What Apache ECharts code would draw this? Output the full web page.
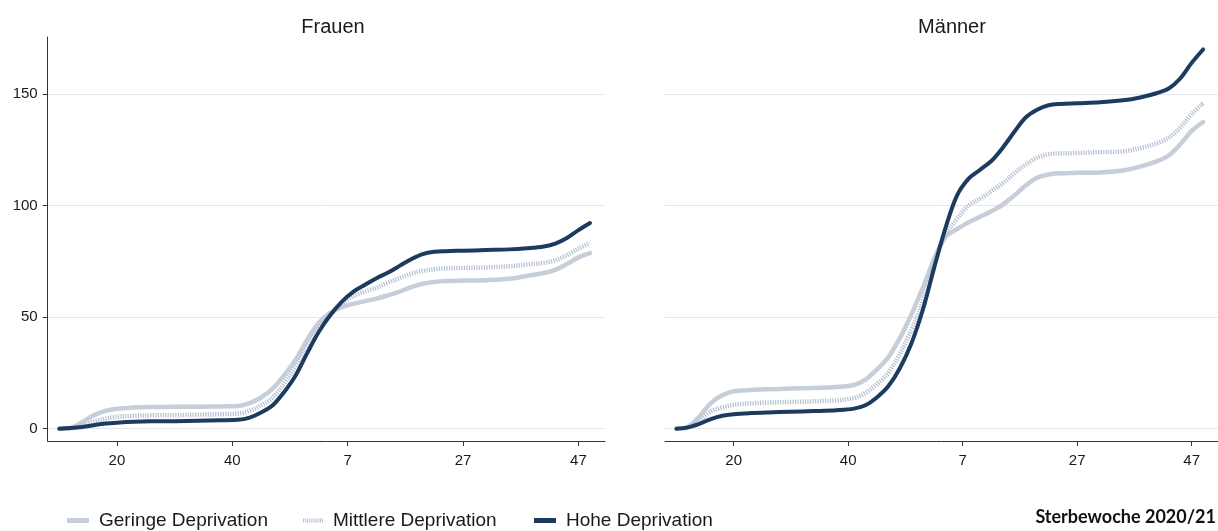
<!DOCTYPE html>
<html>
<head>
<meta charset="utf-8">
<script src="https://cdn.jsdelivr.net/npm/echarts@6/dist/echarts.min.js"></script>
<style>
html,body{margin:0;padding:0;background:#fff;}
#chart{width:1218px;height:531px;}
</style>
</head>
<body>
<div id="chart"></div>
<script>
// Week index: 2020 weeks 1..53 => 1..53, 2021 week w => 53 + w
const weeks = [10,12,14,16,18,20,23,26,30,34,38,41,43,45,47,49,51,53,55,57,59,61,63,65,67,69,71,73,75,77,80,84,88,91,94,96,98,100,102];

const frauenGeringe = [0,0.3,3,6,8,9,9.5,9.7,9.8,9.9,10,10.2,11.5,14,18,24,31,40,47.5,52,54.5,56,57.2,58.3,59.8,61.5,63.5,65,65.8,66.2,66.4,66.6,67.2,68.5,69.8,71.2,73.8,76.8,78.7];
const frauenMittlere = [0,0.2,1.5,3.2,4.5,5.3,5.8,6,6.1,6.3,6.5,6.8,8,10.5,14,20.5,28,37,45,51,56,59.5,61.5,63.2,65.5,67.5,69.5,70.8,71.5,71.9,72.1,72.3,72.8,73.6,74.4,75.5,77.8,80.8,83.2];
const frauenHohe = [0,0.3,0.8,1.6,2.3,2.7,3.1,3.3,3.4,3.6,3.8,4.0,5.0,7.3,10.5,16.5,24,34,43.5,51,57,61.5,64.5,67.5,70,73,76,78.3,79.3,79.6,79.8,80.1,80.4,80.9,81.7,83,85.5,89,92.2];

const maennerGeringe = [0,0.8,5.5,11.5,15,16.8,17.4,17.7,18,18.3,18.7,19.6,22,26.5,32,40.5,51,63,76,86,89.5,92.5,95,97.5,100.5,104.5,109,112.5,114,114.5,114.7,114.9,115.8,117.5,120,122.5,127.5,133.5,137.5];
const maennerMittlere = [0,0.5,3.5,7.8,9.5,10.7,11.4,11.7,12,12.3,12.7,13.8,16,20,25,33.5,44,57,74,87,94,100,103,106.5,110,114.5,118.5,121.5,123,123.4,123.6,124,124.3,125.8,128,130.5,135,141,146];
const maennerHohe = [0,0.6,2.2,4.3,5.8,6.5,7,7.3,7.6,7.9,8.3,9,10.5,14,19,27,38,53,72,90,104.5,112,116,120,126,133,139.5,143,145,145.6,145.9,146.3,147.2,148.5,150.5,152.5,157,164,170];

const tickValues = [20,40,60,80,100];
const tickLabels = ['20','40','7','27','47'];
const yTickValues = [0,50,100,150];
const panelTitles = ['Frauen','Männer'];
const seriesNames = ['Geringe Deprivation','Mittlere Deprivation','Hohe Deprivation'];

const colGering = '#c6ced9';
const colMittel = '#b3c0d2';
const colHoch = '#1d3a5f';

function pairs(vals){ return weeks.map((w,i)=>[w, vals[i]]); }

const FONT = '"Liberation Sans", Arial, sans-serif';

function xAxisDef(gridIndex){
  return {
    type:'value', gridIndex, min:8, max:104.6,
    axisLine:{show:true, onZero:false, lineStyle:{color:'#333', width:1}},
    axisTick:{show:true, length:5, lineStyle:{color:'#333'}, customValues:tickValues},
    axisLabel:{show:true, margin:12, color:'#1a1a1a', fontSize:15, fontFamily:FONT,
      customValues:tickValues,
      formatter:(v)=>{ const i = tickValues.indexOf(v); return i>=0 ? tickLabels[i] : ''; }},
    splitLine:{show:false}
  };
}
function yAxisDef(gridIndex, showAxis){
  return {
    type:'value', gridIndex, min:-5.5, max:175.6,
    axisLine:{show:showAxis, onZero:false, lineStyle:{color:'#333', width:1}},
    axisTick:{show:showAxis, length:5, lineStyle:{color:'#333'}, customValues:yTickValues},
    axisLabel:{show:showAxis, margin:10, color:'#1a1a1a', fontSize:15, fontFamily:FONT, customValues:yTickValues},
    splitLine:{show:true, lineStyle:{color:'#e4e6e9', width:1}}
  };
}

function lineSeries(name, data, idx, style){
  return {
    name, type:'line', xAxisIndex:idx, yAxisIndex:idx, data:pairs(data),
    showSymbol:false, symbol:'none', smooth:0.35,
    lineStyle:style, z: style.z || 2, silent:true, animation:false
  };
}

const styleG = {color:colGering, width:4.5, cap:'round', join:'round'};
const styleM = {color:colMittel, width:4.5, type:[1.2,1.3], cap:'butt'};
const styleH = {color:colHoch, width:4, cap:'round', join:'round'};

const dotIcon = 'path://M0,0h1v4h-1z M2,0h1v4h-1z M4,0h1v4h-1z M6,0h1v4h-1z M8,0h1v4h-1z M10,0h1v4h-1z M12,0h1v4h-1z M14,0h1v4h-1z M16,0h1v4h-1z M18,0h1v4h-1z';

function legendDef(name, left, icon, color, w){
  return {
    data:[{name, icon, itemStyle:{color}}],
    left, top:506, itemWidth:w, itemHeight:5, itemGap:0,
    selectedMode:false,
    textStyle:{color:'#1a1a1a', fontSize:19, fontFamily:FONT, padding:[0,0,0,5]}
  };
}

const chart = echarts.init(document.getElementById('chart'), null, {renderer:'canvas'});
chart.setOption({
  animation:false,
  backgroundColor:'#ffffff',
  title:[
    {text:panelTitles[0], left:328, top:12, textAlign:'center', textStyle:{fontSize:20, fontWeight:'normal', color:'#1a1a1a', fontFamily:FONT}},
    {text:panelTitles[1], left:947, top:12, textAlign:'center', textStyle:{fontSize:20, fontWeight:'normal', color:'#1a1a1a', fontFamily:FONT}}
  ],
  grid:[
    {left:47.7, right:613, top:37, bottom:90, containLabel:false},
    {left:665, right:-4.3, top:37, bottom:90, containLabel:false}
  ],
  xAxis:[xAxisDef(0), xAxisDef(1)],
  yAxis:[yAxisDef(0,true), yAxisDef(1,false)],
  legend:[
    legendDef(seriesNames[0], 62, 'rect', colGering, 22),
    legendDef(seriesNames[1], 298, dotIcon, colMittel, 20),
    legendDef(seriesNames[2], 529, 'rect', colHoch, 22)
  ],
  graphic:[
    {type:'text', right:2, top:508, style:{text:'Sterbewoche 2020/21', fill:'#111', font:'bold 18px Lato, "Open Sans", sans-serif'}}
  ],
  series:[
    lineSeries(seriesNames[0], frauenGeringe, 0, styleG),
    lineSeries(seriesNames[1], frauenMittlere, 0, styleM),
    lineSeries(seriesNames[2], frauenHohe, 0, styleH),
    lineSeries(seriesNames[0], maennerGeringe, 1, styleG),
    lineSeries(seriesNames[1], maennerMittlere, 1, styleM),
    lineSeries(seriesNames[2], maennerHohe, 1, styleH)
  ]
});
</script>
</body>
</html>
